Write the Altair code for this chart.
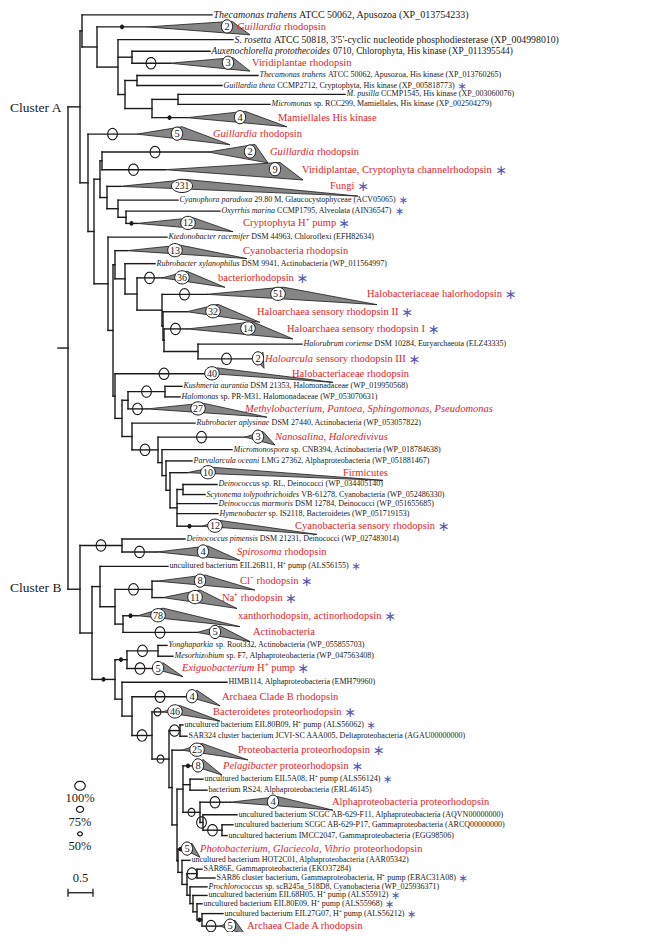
import math
import altair as alt
import pandas as pd

# ---------------- data ----------------
# Leaves (black labels). Text between slashes is italic.
leaf_name = [
    "/Thecamonas trahens/ ATCC 50062, Apusozoa (XP_013754233)",
    "/S. rosetta/ ATCC 50818, 3'5'-cyclic nucleotide phosphodiesterase (XP_004998010)",
    "/Auxenochlorella protothecoides/ 0710, Chlorophyta, His kinase (XP_011395544)",
    "/Thecamonas trahens/ ATCC 50062, Apusozoa, His kinase (XP_013760265)",
    "/Guillardia theta/ CCMP2712, Cryptophyta, His kinase (XP_005818773)",
    "/M. pusilla/ CCMP1545, His kinase (XP_003060076)",
    "/Micromonas/ sp. RCC299, Mamiellales, His kinase (XP_002504279)",
    "/Cyanophora paradoxa/ 29.80 M, Glaucocystophyceae (ACV05065)",
    "/Oxyrrhis marina/ CCMP1795, Alveolata (AIN36547)",
    "/Ktedonobacter racemifer/ DSM 44963, Chloroflexi (EFH82634)",
    "/Rubrobacter xylanophilus/ DSM 9941, Actinobacteria (WP_011564997)",
    "/Halorubrum coriense/ DSM 10284, Euryarchaeota (ELZ43335)",
    "/Kushmeria aurantia/ DSM 21353, Halomonadaceae (WP_019950568)",
    "/Halomonas/ sp. PR-M31, Halomonadaceae (WP_053070631)",
    "/Rubrobacter aplysinae/ DSM 27440, Actinobacteria (WP_053057822)",
    "/Micromonospora/ sp. CNB394, Actinobacteria (WP_018784638)",
    "/Parvularcula oceani/ LMG 27362, Alphaproteobacteria (WP_051881467)",
    "/Deinococcus/ sp. RL, Deinococci (WP_034405140)",
    "/Scytonema tolypothrichoides/ VB-61278, Cyanobacteria (WP_052486330)",
    "/Deinococcus marmoris/ DSM 12784, Deinococci (WP_051655685)",
    "/Hymenobacter/ sp. IS2118, Bacteroidetes (WP_051719153)",
    "/Deinococcus pimensis/ DSM 21231, Deinococci (WP_027483014)",
    "uncultured bacterium EIL26B11, H\u207a pump (ALS56155)",
    "/Yonghaparkia/ sp. Root332, Actinobacteria (WP_055855703)",
    "/Mesorhizobium/ sp. F7, Alphaproteobacteria (WP_047563408)",
    "HIMB114, Alphaproteobacteria (EMH79960)",
    "uncultured bacterium EIL80B09, H\u207a pump (ALS56062)",
    "SAR324 cluster bacterium JCVI-SC AAA005, Deltaproteobacteria (AGAU00000000)",
    "uncultured bacterium EIL5A08, H\u207a pump (ALS56124)",
    "bacterium RS24, Alphaproteobacteria (ERL46145)",
    "uncultured bacterium SCGC AB-629-F11, Alphaproteobacteria (AQVN00000000)",
    "uncultured bacterium SCGC AB-629-P17, Gammaproteobacteria (ARCQ00000000)",
    "uncultured bacterium IMCC2047, Gammaproteobacteria (EGG98506)",
    "uncultured bacterium HOT2C01, Alphaproteobacteria (AAR05342)",
    "SAR86E, Gammaproteobacteria (EKO37284)",
    "SAR86 cluster bacterium, Gammaproteobacteria, H\u207a pump (EBAC31A08)",
    "/Prochlorococcus/ sp. scB245a_518D8, Cyanobacteria (WP_025936371)",
    "uncultured bacterium EIL68H05, H\u207a pump (ALS55912)",
    "uncultured bacterium EIL80E09, H\u207a pump (ALS55968)",
    "uncultured bacterium EIL27G07, H\u207a pump (ALS56212)",
]
leaf_depth = [2.88, 3.30, 2.84, 3.80, 3.08, 5.54, 4.04, 2.20, 3.04, 1.98,
              1.74, 4.68, 2.28, 2.24, 2.54, 3.28, 2.48, 2.98, 2.74, 2.98,
              3.00, 2.34, 2.00, 1.98, 2.10, 3.18, 2.30, 2.38, 2.70, 2.78,
              3.38, 3.30, 3.18, 2.44, 2.68, 2.94, 2.78, 2.78, 2.68, 3.10]
leaf_star = [4, 7, 8, 22, 26, 28, 35, 37, 38, 39]

# Collapsed clades (red labels)
clade_name = [
    "/Guillardia/ rhodopsin",
    "Viridiplantae rhodopsin",
    "Mamiellales His kinase",
    "/Guillardia/ rhodopsin",
    "/Guillardia/ rhodopsin",
    "Viridiplantae, Cryptophyta channelrhodopsin",
    "Fungi",
    "Cryptophyta H\u207a pump",
    "Cyanobacteria rhodopsin",
    "bacteriorhodopsin",
    "Halobacteriaceae halorhodopsin",
    "Haloarchaea sensory rhodopsin II",
    "Haloarchaea sensory rhodopsin I",
    "/Haloarcula/ sensory rhodopsin III",
    "Halobacteriaceae rhodopsin",
    "/Methylobacterium, Pantoea, Sphingomonas, Pseudomonas/",
    "/Nanosalina, Haloredivivus/",
    "Firmicutes",
    "Cyanobacteria sensory rhodopsin",
    "/Spirosoma/ rhodopsin",
    "Cl\u207b rhodopsin",
    "Na\u207a rhodopsin",
    "xanthorhodopsin, actinorhodopsin",
    "Actinobacteria",
    "/Exiguobacterium/ H\u207a pump",
    "Archaea Clade B rhodopsin",
    "Bacteroidetes proteorhodopsin",
    "Proteobacteria proteorhodopsin",
    "/Pelagibacter/ proteorhodopsin",
    "Alphaproteobacteria proteorhodopsin",
    "/Photobacterium, Glaciecola, Vibrio/ proteorhodopsin",
    "Archaea Clade A rhodopsin",
]
clade_count = [2, 3, 4, 5, 2, 9, 231, 12, 13, 36, 51, 32, 14, 2, 40, 27,
               3, 10, 12, 4, 8, 11, 78, 5, 5, 4, 46, 25, 8, 4, 5, 5]
clade_apex = [1.58, 2.04, 2.38, 1.38, 2.80, 1.94, 1.04, 1.38, 1.18, 1.88, 2.78,
              2.38, 2.38, 3.74, 2.90, 1.58, 3.54, 2.38, 2.68, 1.78, 1.78, 1.90,
              1.40, 2.58, 1.70, 2.40, 1.90, 2.28, 2.50, 3.24, 2.30, 3.04]
clade_min = [3.28, 3.30, 3.54, 2.28, 3.74, 4.24, 2.38, 2.50, 2.24, 2.38, 4.30,
             3.00, 3.70, 3.90, 2.98, 2.70, 3.90, 2.90, 3.04, 2.80, 2.74, 2.64,
             1.90, 3.04, 1.90, 2.58, 2.24, 2.68, 2.70, 4.20, 2.48, 3.34]
clade_max = [3.64, 3.64, 4.38, 3.24, 4.00, 4.70, 5.80, 3.30, 3.58, 3.14, 6.18,
             3.84, 4.50, 3.92, 5.30, 3.98, 4.14, 6.30, 4.98, 3.44, 3.74, 3.38,
             3.44, 3.64, 2.30, 3.04, 3.04, 3.60, 3.08, 5.30, 2.64, 3.54]
clade_label_at = [3.38, 3.68, 4.20, 2.90, 4.04, 4.68, 5.24, 3.50, 3.50, 3.00, 5.98,
                  3.78, 4.38, 3.94, 4.48, 3.54, 4.14, 5.50, 4.54, 3.38, 3.44, 3.08,
                  3.40, 3.70, 2.28, 3.08, 2.90, 3.40, 3.10, 5.28, 2.64, 3.58]
clade_star = [5, 6, 7, 9, 10, 11, 12, 13, 18, 20, 21, 22, 24, 26, 27, 28]

# vertical room taken by each tip, in tree order (top to bottom)
tip_space = [11, 13.5, 12.5, 11, 13.5, 11.5, 9, 9, 11.5, 15.5,
             18, 18.5, 17.5, 16.5, 11.5, 11, 14, 14, 13.5, 13,
             16, 17.5, 18, 17, 14, 16, 14.5, 11, 10.5, 14,
             15, 13.5, 12, 11, 13, 11, 9.5, 9, 11.5, 14,
             12, 14.5, 15, 15, 18.5, 18.5, 15.5, 11, 11, 14,
             14, 15.5, 15.5, 11, 12, 16.5, 15.5, 11.5, 11, 13.5,
             12, 8.5, 13.5, 14, 9, 9, 9, 9, 8.5, 8.5,
             11.5, 14]

support_levels = [100, 75, 50]
scale_bar = 0.5


def N(d, s, *kids):
    """internal node: depth (substitutions/site), bootstrap support, children"""
    return {"d": d, "s": s, "kids": kids}


his_kinase = N(1.14, None,
               N(1.38, None, "L3", "L4"),
               N(1.68, None, N(2.20, None, "L5", "L6"), ("C2", 50)))
group_a1 = N(0.28, None,
             "L0",
             N(0.58, None,
               ("C0", 50),
               N(1.00, None, "L1", N(1.28, None, "L2", ("C1", 100)), his_kinase)))
haloarchaea = N(1.14, None,
                "L10",
                N(1.38, None,
                  ("C9", 100),
                  N(1.88, None,
                    ("C10", 100),
                    N(1.90, None,
                      "C11",
                      N(1.92, None,
                        ("C12", 100),
                        N(2.60, None, "L11", ("C13", 100)))))))
deino = N(2.04, None,
          "C17",
          N(2.18, None, N(2.30, None, "L17", "L18"), "L19", "L20", ("C18", 50)))
actino_mix = N(1.28, None,
               "L14",
               N(1.80, 100,
                 ("C16", 100),
                 N(1.88, None, "L15", N(1.96, None, "L16", deino))))
halo_rho = N(0.94, None,
             ("C14", 100),
             N(1.08, None,
               N(1.20, None, N(1.94, 100, "L12", "L13"), ("C15", 100)),
               actino_mix))
group_a3 = N(0.80, None,
             "L9",
             N(0.90, None,
               N(0.94, None, "C8", haloarchaea),
               halo_rho))
group_a2 = N(0.40, None,
             ("C3", 100),
             N(0.52, None,
               N(0.64, None,
                 N(0.68, None, ("C4", 100), ("C5", 100)),
                 N(0.78, None, "C6",
                   N(1.00, None, "L7", N(1.16, None, "L8", ("C7", 50))))),
               group_a3))
cluster_a = N(0.24, None, group_a1, group_a2)

bottom_ladder = N(2.20, None,
                  ("C30", 50),
                  N(2.28, None,
                    "L33",
                    N(2.38, None,
                      N(2.58, 100, "L34", "L35"),
                      N(2.44, None,
                        "L36",
                        N(2.50, None,
                          "L37",
                          N(2.58, None, "L38", N(2.68, 50, "L39", ("C31", 100))))))))
proteo = N(2.08, None,
           "C27",
           N(2.18, None,
             N(2.30, None,
               ("C28", 50),
               N(2.44, None, "L28", "L29"),
               N(2.64, 75, ("C29", 100),
                 N(2.70, 100, "L30", N(3.08, 100, "L31", "L32")))),
             bottom_ladder))
group_b3 = N(0.94, 50,
             N(1.18, 50, N(1.80, 100, "L23", "L24"), ("C24", 100)),
             N(1.08, None,
               "L25",
               N(1.28, None,
                 ("C25", 100),
                 N(1.68, 100,
                   ("C26", 75),
                   N(2.02, 75, N(2.24, 100, "L26", "L27"), proteo)))))
group_b2 = N(0.48, None,
             N(0.64, None,
               "L22",
               N(0.94, None,
                 N(1.68, 100, "C20", "C21"),
                 N(1.10, None, ("C22", 50), ("C23", 100)))),
             group_b3)
cluster_b = N(0.24, None, N(1.08, 100, "L21", ("C19", 100)), group_b2)
tree = N(0.0, None, cluster_a, cluster_b)

# ---------------- layout ----------------
PX = 50.0            # pixels per substitution unit
W, H = 644, 924
X0 = -1.2
RED, BLACK, BLUE, GREY = "#e3242b", "#1a1a1a", "#5a5ab4", "#858585"
FONT = "Liberation Serif"
RED_FS, BLACK_FS = 10.5, 8.0
LEAF_FS = {0: 10.0, 1: 9.8, 2: 9.3}     # the first labels are set larger

REG, ITA = {}, {}
for w, chars in [(180, "'"), (250, " ,."), (278, "ijlt:;/"), (333, "()-frI[]"),
                 (389, "sJ"), (444, "acez"), (500, "bdghknopquvxy0123456789_*"),
                 (556, "FPS"), (564, "+"), (611, "ELTZ"), (667, "BCR"),
                 (722, "ADGHKNOQUVXYw"), (778, "m"), (889, "M"), (944, "W"),
                 (320, "\u207a\u207b")]:
    for ch in chars:
        REG[ch] = w
for w, chars in [(214, "'"), (250, " ,."), (278, "fijlt:;/"), (333, "()-I"),
                 (389, "rsz"), (444, "cekvxyJ"), (500, "abdghnopquS0123456789_"),
                 (556, "LTYZ"), (611, "ABEFPRVX"), (667, "CKNw"), (722, "DGHOQUm"),
                 (833, "MW")]:
    for ch in chars:
        ITA[ch] = w


def tw(s, italic, size):
    tab = ITA if italic else REG
    return sum(tab.get(ch, 500) for ch in s) * size / 1000.0


segs, sups, tri, txt, stars, badges = [], [], [], [], [], []
state = {"y": 0.0, "i": 0}


def add_label(label, x, y, col, size, star):
    off = 0.0
    for i, part in enumerate(label.split("/")):
        if not part:
            continue
        it = (i % 2 == 1)
        lead = len(part) - len(part.lstrip(" "))
        core = part.strip(" ")
        if core:
            txt.append(dict(x=x + (off + tw(" " * lead, it, size)) / PX, y=y,
                            t=core, it=it, col=col, fs=size))
        off += tw(part, it, size)
    if star:
        stars.append(dict(x=x + (off + 3) / PX, y=y + 1, fs=size + 3.5))


def place(node, parent):
    if isinstance(node, dict):
        kid_y = [place(k, node["d"]) for k in node["kids"]]
        y = (kid_y[0] + kid_y[-1]) / 2
        segs.append(dict(x=node["d"], x2=node["d"], y=kid_y[0], y2=kid_y[-1]))
        if parent is not None:
            segs.append(dict(x=parent, x2=node["d"], y=y, y2=y))
            if node["s"]:
                sups.append(dict(x=(parent + node["d"]) / 2, y=y, s=node["s"]))
        return y
    key, s = (node, None) if isinstance(node, str) else node
    h = tip_space[state["i"]]
    state["i"] += 1
    y = state["y"] + h / 2
    state["y"] += h
    idx = int(key[1:])
    if key[0] == "L":
        end = leaf_depth[idx]
        add_label(leaf_name[idx], end + 0.03, y, BLACK,
                  LEAF_FS.get(idx, BLACK_FS), idx in leaf_star)
    else:
        a, b, c = clade_apex[idx], clade_min[idx], clade_max[idx]
        end = a
        if c <= b:
            c = b + 0.01
        yt, yb = y - 0.42 * h, y + 0.6 * h
        ymid = y + (yb - y) * (b - a) / (c - a)
        tri.extend([dict(k=key, x=a, y1=y, y2=y),
                    dict(k=key, x=b, y1=yt, y2=ymid),
                    dict(k=key, x=c, y1=yb, y2=yb)])
        n = str(clade_count[idx])
        badges.append(dict(x=b - 0.1, y=y - 0.5, n=n, nd=len(n)))
        add_label(clade_name[idx], clade_label_at[idx], y, RED, RED_FS, idx in clade_star)
    segs.append(dict(x=parent, x2=end, y=y, y2=y))
    if s:
        sups.append(dict(x=(parent + end) / 2, y=y, s=s))
    return y


root_y = place(tree, None)
segs.append(dict(x=-0.2, x2=0.0, y=root_y, y2=root_y))


def ellipse_path(rx, ry=1.0, n=32):
    pts = [(rx * math.cos(2 * math.pi * k / n), ry * math.sin(2 * math.pi * k / n))
           for k in range(n)]
    return "M" + "L".join(f"{px:.3f},{py:.3f}" for px, py in pts) + "Z"


ELL = ellipse_path(0.85)
WIDE_ELL = ellipse_path(1.0, 0.85)
BADGE_SHAPES = {1: ellipse_path(0.85), 2: ellipse_path(1.1), 3: ellipse_path(1.6)}
SUP_SIZE = {100: 130, 75: 64, 50: 22}

sup_df = pd.DataFrame(sups)
sup_df["size"] = sup_df["s"].map(SUP_SIZE)
badge_df = pd.DataFrame(badges)
badge_df["shape"] = badge_df["nd"].map(BADGE_SHAPES)
badge_df["bfs"] = badge_df["nd"].map({1: 10.5, 2: 10, 3: 9.5})
txt_df = pd.DataFrame(txt)

xs = alt.Scale(domain=[X0, X0 + W / PX], nice=False, zero=False)
ys = alt.Scale(domain=[-1.5, 940], reverse=True, nice=False, zero=False)
X = lambda f="x": alt.X(f"{f}:Q", scale=xs, axis=None)
Y = lambda f="y": alt.Y(f"{f}:Q", scale=ys, axis=None)

lines = alt.Chart(pd.DataFrame(segs)).mark_rule(
    color=BLACK, strokeWidth=1.4, strokeCap="square"
).encode(x=X(), x2="x2:Q", y=Y(), y2="y2:Q")

triangles = alt.Chart(pd.DataFrame(tri)).mark_area(
    fill=GREY, stroke=BLACK, strokeWidth=0.8, orient="vertical",
    interpolate="linear", opacity=1
).encode(x=X(), y=Y("y1"), y2="y2:Q", detail="k:N")

sup_open = alt.Chart(sup_df[sup_df["s"] > 50]).mark_point(
    shape=ELL, filled=False, color=BLACK, strokeWidth=1.1, opacity=1
).encode(x=X(), y=Y(), size=alt.Size("size:Q", scale=None))

sup_dot = alt.Chart(sup_df[sup_df["s"] == 50]).mark_point(
    shape=ELL, filled=True, color=BLACK, opacity=1
).encode(x=X(), y=Y(), size=alt.Size("size:Q", scale=None))

badge_pts = alt.Chart(badge_df).mark_point(
    filled=True, fill="white", stroke=BLACK, strokeWidth=1, opacity=1
).encode(x=X(), y=Y(), size=alt.value(175),
         shape=alt.Shape("shape:N", scale=None))

badge_txt = alt.Chart(badge_df).mark_text(
    font=FONT, color=BLACK, align="center", baseline="middle", dy=0.5
).encode(x=X(), y=Y(), text="n:N", size=alt.Size("bfs:Q", scale=None))

lab_it = alt.Chart(txt_df[txt_df["it"]]).mark_text(
    font=FONT, fontStyle="italic", align="left", baseline="middle"
).encode(x=X(), y=Y(), text="t:N",
         color=alt.Color("col:N", scale=None),
         size=alt.Size("fs:Q", scale=None))

lab_rg = alt.Chart(txt_df[~txt_df["it"]]).mark_text(
    font=FONT, align="left", baseline="middle"
).encode(x=X(), y=Y(), text="t:N",
         color=alt.Color("col:N", scale=None),
         size=alt.Size("fs:Q", scale=None))

star_txt = alt.Chart(pd.DataFrame(stars)).mark_text(
    font="DejaVu Sans", color=BLUE, align="left", baseline="middle", text="\u2217"
).encode(x=X(), y=Y(), size=alt.Size("fs:Q", scale=None))

# legend for bootstrap support + scale bar + cluster names
leg_df = pd.DataFrame({"x": [0.24] * 3, "y": [791, 815, 840],
                       "s": support_levels,
                       "lab": [f"{v}%" for v in support_levels],
                       "ly": [803, 828, 852]})
leg_df["size"] = [110, 50, 22]
leg_pts = alt.Chart(leg_df).mark_point(
    shape=WIDE_ELL, filled=False, color=BLACK, strokeWidth=1.2, opacity=1
).encode(x=X(), y=Y(), size=alt.Size("size:Q", scale=None))
leg_txt = alt.Chart(leg_df).mark_text(
    font=FONT, fontSize=12.5, color=BLACK, align="center", baseline="middle"
).encode(x=X(), y=Y("ly"), text="lab:N")

bar_df = pd.DataFrame({"x": [0.0, 0.0, scale_bar], "x2": [scale_bar, 0.0, scale_bar],
                       "y": [900, 896, 896], "y2": [900, 904, 904]})
bar = alt.Chart(bar_df).mark_rule(color=BLACK, strokeWidth=1.3).encode(
    x=X(), x2="x2:Q", y=Y(), y2="y2:Q")
bar_txt = alt.Chart(pd.DataFrame({"x": [scale_bar / 2], "y": [885],
                                  "t": [str(scale_bar)]})).mark_text(
    font=FONT, fontSize=12.5, color=BLACK, align="center", baseline="middle"
).encode(x=X(), y=Y(), text="t:N")

clusters = pd.DataFrame({"x": [-0.13, -0.13], "y": [100, 589],
                         "t": ["Cluster A", "Cluster B"]})
cluster_txt = alt.Chart(clusters).mark_text(
    font=FONT, fontSize=13.5, color=BLACK, align="right", baseline="middle"
).encode(x=X(), y=Y(), text="t:N")

chart = alt.layer(
    lines, triangles, sup_open, sup_dot, badge_pts, badge_txt,
    lab_it, lab_rg, star_txt, leg_pts, leg_txt, bar, bar_txt, cluster_txt
).properties(width=W, height=H, padding=0, autosize="none").configure_view(
    strokeWidth=0
)

chart.save("out.html", embed_options={"renderer": "svg", "actions": False})
